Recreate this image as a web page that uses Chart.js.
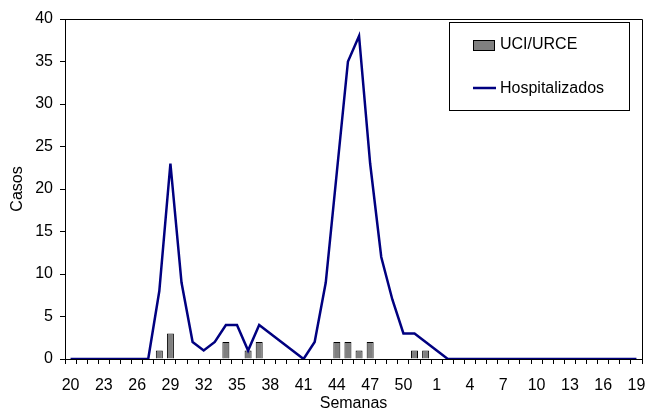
<!DOCTYPE html>
<html>
<head>
<meta charset="utf-8">
<script src="https://cdn.jsdelivr.net/npm/chart.js@4/dist/chart.umd.min.js"></script>
<style>
  html, body { margin: 0; padding: 0; background: #fff; }
  #wrap { width: 646px; height: 412px; }
</style>
</head>
<body>
<div id="wrap"><canvas id="casosChart" width="646" height="412"></canvas></div>
<script>
// Semanas epidemiológicas (20..52, luego 1..19)
const semanas = [
  "20", "21", "22", "23", "24", "25", "26", "27", "28", "29", "30", "31", "32",
  "33", "34", "35", "36", "37", "38", "39", "40", "41", "42", "43", "44", "45",
  "46", "47", "48", "49", "50", "51", "52", "1", "2", "3", "4", "5", "6", "7",
  "8", "9", "10", "11", "12", "13", "14", "15", "16", "17", "18", "19"
];

const hospitalizados = [
  0, 0, 0, 0, 0, 0, 0, 0, 8, 23, 9, 2, 1,
  2, 4, 4, 1, 4, 3, 2, 1, 0, 2, 9, 22, 35,
  38, 23, 12, 7, 3, 3, 2, 1, 0, 0, 0, 0, 0, 0,
  0, 0, 0, 0, 0, 0, 0, 0, 0, 0, 0, 0
];

const uciUrce = [
  0, 0, 0, 0, 0, 0, 0, 0, 1, 3, 0, 0, 0,
  0, 2, 0, 1, 2, 0, 0, 0, 0, 0, 0, 2, 2,
  1, 2, 0, 0, 0, 1, 1, 0, 0, 0, 0, 0, 0, 0,
  0, 0, 0, 0, 0, 0, 0, 0, 0, 0, 0, 0
];

// every third week gets a label
const shownWeeks = ["20", "23", "26", "29", "32", "35", "38", "41", "44", "47", "50",
  "1", "4", "7", "10", "13", "16", "19"];

const font = "'Liberation Sans', Arial, sans-serif";
const lineColor = "#000080";
const barColor = "#808080";

Chart.defaults.font.family = font;
Chart.defaults.font.size = 16;
Chart.defaults.color = "#000";

// frame on top/right of the plot plus the boxed legend
const framePlugin = {
  id: "frameAndLegend",
  afterDraw(chart) {
    const ctx = chart.ctx;
    const a = chart.chartArea;
    ctx.save();
    ctx.strokeStyle = "#000";
    ctx.lineWidth = 1;
    ctx.beginPath();
    ctx.moveTo(a.left, a.top + 0.5);
    ctx.lineTo(a.right + 0.5, a.top + 0.5);
    ctx.lineTo(a.right + 0.5, a.bottom);
    ctx.stroke();

    // legend box
    ctx.strokeRect(449.5, 22.5, 180, 88);
    const ds = chart.data.datasets;
    ctx.fillStyle = ds[0].backgroundColor;
    ctx.fillRect(473.5, 40.5, 21, 10);
    ctx.strokeRect(473.5, 40.5, 21, 10);
    ctx.strokeStyle = ds[1].borderColor;
    ctx.lineWidth = 2.5;
    ctx.beginPath();
    ctx.moveTo(473, 88);
    ctx.lineTo(496, 88);
    ctx.stroke();
    ctx.fillStyle = "#000";
    ctx.font = "16px " + font;
    ctx.textBaseline = "middle";
    ctx.textAlign = "left";
    ctx.fillText(ds[0].label, 500, 45);
    ctx.fillText(ds[1].label, 500, 89);
    ctx.restore();
  }
};

new Chart(document.getElementById("casosChart"), {
  type: "bar",
  data: {
    labels: semanas,
    datasets: [
      {
        label: "UCI/URCE",
        data: uciUrce,
        backgroundColor: barColor,
        borderColor: "#000",
        borderWidth: 1,
        borderSkipped: "bottom",
        categoryPercentage: 1,
        barPercentage: 0.63,
        order: 2
      },
      {
        label: "Hospitalizados",
        type: "line",
        data: hospitalizados,
        borderColor: lineColor,
        backgroundColor: lineColor,
        borderWidth: 2.5,
        pointRadius: 0,
        tension: 0,
        fill: false,
        order: 1
      }
    ]
  },
  options: {
    responsive: false,
    animation: false,
    layout: { padding: { top: 19, right: 4, bottom: 0, left: 0 } },
    plugins: {
      legend: { display: false },
      tooltip: { enabled: false }
    },
    scales: {
      x: {
        offset: true,
        grid: {
          offset: true,
          drawOnChartArea: false,
          drawTicks: true,
          tickLength: 5,
          color: "#000"
        },
        border: { color: "#000", width: 1 },
        ticks: {
          autoSkip: false,
          maxRotation: 0,
          minRotation: 0,
          padding: 12,
          color: "#000",
          callback: function (val) {
            const lab = this.getLabelForValue(val);
            return shownWeeks.includes(lab) ? lab : "";
          }
        },
        title: {
          display: true,
          text: "Semanas",
          color: "#000",
          font: { size: 16, lineHeight: 1.1 },
          padding: { top: 0, bottom: 0 }
        },
        afterFit: (scale) => {
          scale.height = 53;
          scale.paddingLeft = 0;
          scale.paddingRight = 0;
        }
      },
      y: {
        min: 0,
        max: 40,
        grid: {
          drawOnChartArea: false,
          drawTicks: true,
          tickLength: 5,
          color: "#000"
        },
        border: { color: "#000", width: 1 },
        ticks: {
          stepSize: 5,
          padding: 7,
          color: "#000"
        },
        title: {
          display: true,
          text: "Casos",
          color: "#000",
          font: { size: 16 },
          padding: { top: 8, bottom: 0 }
        },
        afterFit: (scale) => {
          scale.width = 65;
          scale.paddingTop = 0;
          scale.paddingBottom = 0;
        }
      }
    }
  },
  plugins: [framePlugin]
});
</script>
</body>
</html>
